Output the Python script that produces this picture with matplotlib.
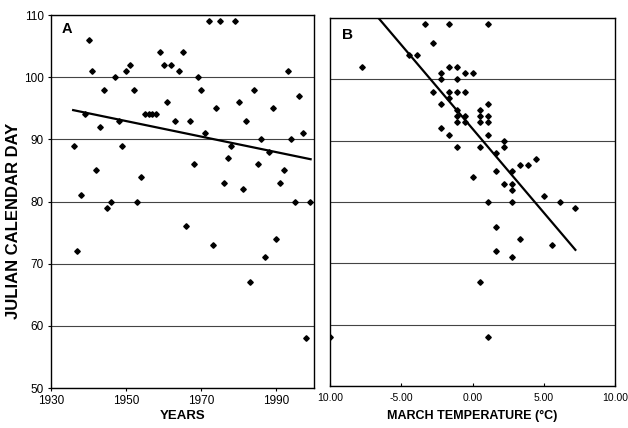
"""Julian calendar day vs year (A) and vs March temperature (B)."""

import matplotlib
matplotlib.use("Agg")
import matplotlib.pyplot as plt

plt.rcParams["font.family"] = ["Liberation Sans", "DejaVu Sans"]

# ------------------------------------------------------------------
# Data
# ------------------------------------------------------------------
years = [1936, 1937, 1938, 1939, 1940, 1941, 1942, 1943, 1944, 1945,
         1946, 1947, 1948, 1949, 1950, 1951, 1952, 1953, 1954, 1955,
         1956, 1957, 1958, 1959, 1960, 1961, 1962, 1963, 1964, 1965,
         1966, 1967, 1968, 1969, 1970, 1971, 1972, 1973, 1974, 1975,
         1976, 1977, 1978, 1979, 1980, 1981, 1982, 1983, 1984, 1985,
         1986, 1987, 1988, 1989, 1990, 1991, 1992, 1993, 1994, 1995,
         1996, 1997, 1998, 1999]
day_by_year = [89, 72, 81, 94, 106, 101, 85, 92, 98, 79,
               80, 100, 93, 89, 101, 102, 98, 80, 84, 94,
               94, 94, 94, 104, 102, 96, 102, 93, 101, 104,
               76, 93, 86, 100, 98, 91, 109, 73, 95, 109,
               83, 87, 89, 109, 96, 82, 93, 67, 98, 86,
               90, 71, 88, 95, 74, 83, 85, 101, 90, 80,
               97, 91, 58, 80]
trend_years = [1935.9, 1999.1]
trend_days_a = [94.7, 86.8]

march_temp = [-3.33, -1.67, 1.11, -2.78, -4.44, -3.89, -7.78, -1.67, -1.11,
              -2.22, -0.56, 0.00, -2.22, -1.11, -2.78, -1.67, -1.11, -0.56,
              -1.67, -2.22, 1.11, -1.11, 0.56, -1.11, -0.56, 0.56, 1.11,
              -1.11, -0.56, 0.56, 1.11, -2.22, -1.67, 1.11, 2.22, -1.11,
              0.56, 2.22, 1.67, 4.44, 3.33, 3.89, 2.78, 1.67, 0.00,
              2.22, 2.78, 2.78, 5.00, 1.11, 2.78, 6.11, 7.22, 1.67,
              3.33, 5.56, 1.67, 2.78, 0.56, 1.11, -10.00]
day_by_temp = [109, 109, 109, 106, 104, 104, 102, 102, 102,
               101, 101, 101, 100, 100, 98, 98, 98, 98,
               97, 96, 96, 95, 95, 94, 94, 94, 94,
               93, 93, 93, 93, 92, 91, 91, 90, 89,
               89, 89, 88, 87, 86, 86, 85, 85, 84,
               83, 83, 82, 81, 80, 80, 80, 79, 76,
               74, 73, 72, 71, 67, 58, 58]
trend_temps = [-6.6, 7.22]
trend_days_b = [110, 72.2]

year_ticks = [1930, 1950, 1970, 1990]
day_ticks = [50, 60, 70, 80, 90, 100, 110]
temp_ticks = [-10, -5, 0, 5, 10]
temp_labels = ["10.00", "-5.00", "0.00", "5.00", "10.00"]

# ------------------------------------------------------------------
# Plot
# ------------------------------------------------------------------
W, H = 628, 428
fig = plt.figure(figsize=(W / 100, H / 100), dpi=100)
ax_a = fig.add_axes([51 / W, 1 - 388 / H, 263 / W, 373 / H])
ax_b = fig.add_axes([330 / W, 1 - 386 / H, 285 / W, 368 / H])

for ax in (ax_a, ax_b):
    ax.set_ylim(50, 110)
    ax.set_yticks(day_ticks)
    ax.yaxis.grid(True, color="#444444", linewidth=0.8)
    ax.set_axisbelow(True)
    for sp in ax.spines.values():
        sp.set_color("black")
        sp.set_linewidth(1.0)

# Panel A
ax_a.plot(years, day_by_year, "D", color="black", markersize=2.8, zorder=3)
ax_a.plot(trend_years, trend_days_a, color="black", linewidth=1.6, zorder=4)
ax_a.set_xlim(1930, 2000)
ax_a.set_xticks(year_ticks)
ax_a.tick_params(labelsize=8.5, length=2, pad=3)
ax_a.text(62 / W, 1 - 33 / H, "A", transform=fig.transFigure,
          fontsize=10.5, fontweight="bold", va="baseline")

# Panel B
ax_b.plot(march_temp, day_by_temp, "D", color="black", markersize=2.8, zorder=3)
ax_b.plot(trend_temps, trend_days_b, color="black", linewidth=1.6, zorder=4)
ax_b.set_xlim(-10, 10)
ax_b.set_xticks(temp_ticks)
ax_b.set_xticklabels(temp_labels)
ax_b.tick_params(axis="x", labelsize=7.5, length=2, direction="in", pad=5)
ax_b.tick_params(axis="y", length=0, labelleft=False)
ax_b.text(342 / W, 1 - 39 / H, "B", transform=fig.transFigure,
          fontsize=11, fontweight="bold", va="baseline")

# Axis titles
fig.text(14 / W, 1 - 221 / H, "JULIAN CALENDAR DAY", rotation=90,
         fontsize=12, fontweight="bold", ha="center", va="center")
fig.text(183 / W, 1 - 416 / H, "YEARS", fontsize=9.5, fontweight="bold",
         ha="center", va="center")
fig.text(472 / W, 1 - 416 / H, "MARCH TEMPERATURE (\u00b0C)", fontsize=9,
         fontweight="bold", ha="center", va="center")

fig.savefig("out.png", dpi=100)
